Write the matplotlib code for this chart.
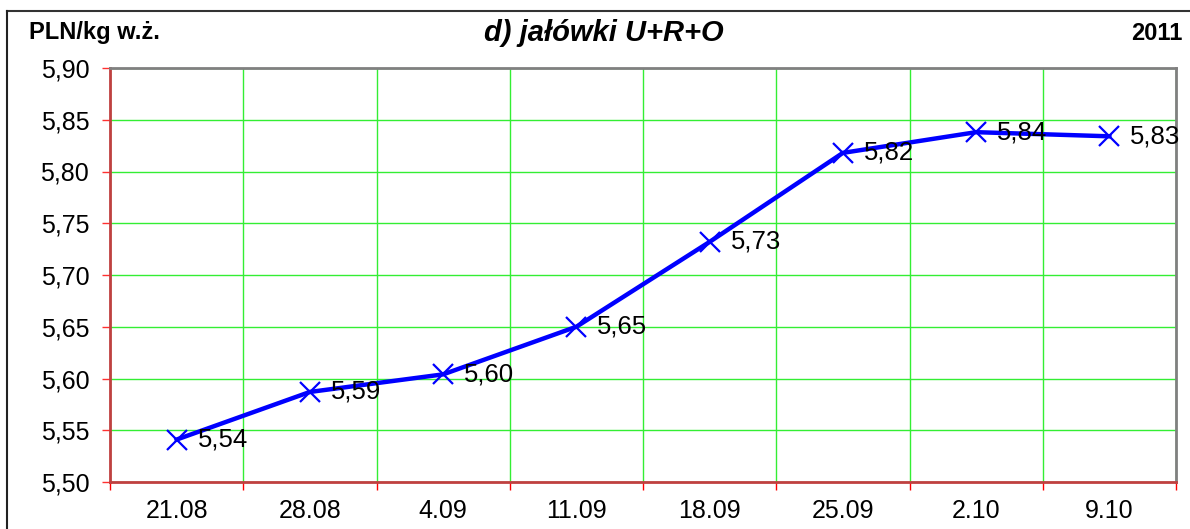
import matplotlib
matplotlib.use("Agg")
import matplotlib.pyplot as plt
from matplotlib.lines import Line2D
import numpy as np

plt.rcParams['font.family'] = ['Liberation Sans', 'DejaVu Sans']

categories = ["21.08", "28.08", "4.09", "11.09", "18.09", "25.09", "2.10", "9.10"]
values = [5.541, 5.587, 5.604, 5.650, 5.732, 5.818, 5.838, 5.834]
labels = ["5,54", "5,59", "5,60", "5,65", "5,73", "5,82", "5,84", "5,83"]
yticks = [5.50, 5.55, 5.60, 5.65, 5.70, 5.75, 5.80, 5.85, 5.90]
ytick_labels = ["5,50", "5,55", "5,60", "5,65", "5,70", "5,75", "5,80", "5,85", "5,90"]

fig = plt.figure(figsize=(11.9, 5.29), dpi=100)
ax = fig.add_axes([110/1190, 47/529, 1066/1190, 414/529])

x = np.arange(len(categories))
ax.plot(x, values, color='#0000ff', lw=3.2, marker='x', ms=14, mew=1.6, zorder=5)
for xi, yi, lab in zip(x, values, labels):
    ax.annotate(lab, (xi, yi), xytext=(15, 0), textcoords='offset points',
                va='center', ha='left', fontsize=18.5, color='black', zorder=6)

ax.set_xlim(-0.5, len(categories) - 0.5)
ax.set_ylim(5.50, 5.90)
ax.set_yticks(yticks)
ax.set_yticklabels(ytick_labels, fontsize=18)
ax.set_xticks(x)
ax.set_xticklabels(categories, fontsize=18)
ax.set_xticks(np.arange(-0.5, len(categories)), minor=True)
ax.tick_params(axis='x', which='major', length=0, pad=12)
ax.tick_params(axis='x', which='minor', length=6, color='#ff0000', width=1, direction='out')
ax.tick_params(axis='y', which='major', length=6, color='#ff3030', width=1, pad=9)

ax.grid(True, axis='y', color='#33ee33', lw=1.0)
ax.grid(True, axis='x', which='minor', color='#33ee33', lw=1.0)
ax.set_axisbelow(True)

for s in ['left', 'bottom']:
    ax.spines[s].set_color('#c04040')
    ax.spines[s].set_linewidth(2)
for s in ['top', 'right']:
    ax.spines[s].set_color('#808080')
    ax.spines[s].set_linewidth(2)

fig.text(29/1190, 1 - 33/529, "PLN/kg w.ż.", fontsize=17, fontweight='bold', va='center', ha='left')
fig.text(604/1190, 1 - 33/529, "d) jałówki U+R+O", fontsize=21, fontweight='bold', style='italic', va='center', ha='center')
fig.text(1183/1190, 1 - 33/529, "2011", fontsize=17, fontweight='bold', va='center', ha='right')

fig.add_artist(Line2D([7/1190, 1.0], [1 - 11/529, 1 - 11/529], color='#333333', lw=1.5, transform=fig.transFigure))
fig.add_artist(Line2D([7/1190, 7/1190], [0, 1 - 11/529], color='#222222', lw=1.5, transform=fig.transFigure))

fig.savefig("out.png", dpi=100, facecolor='white')
